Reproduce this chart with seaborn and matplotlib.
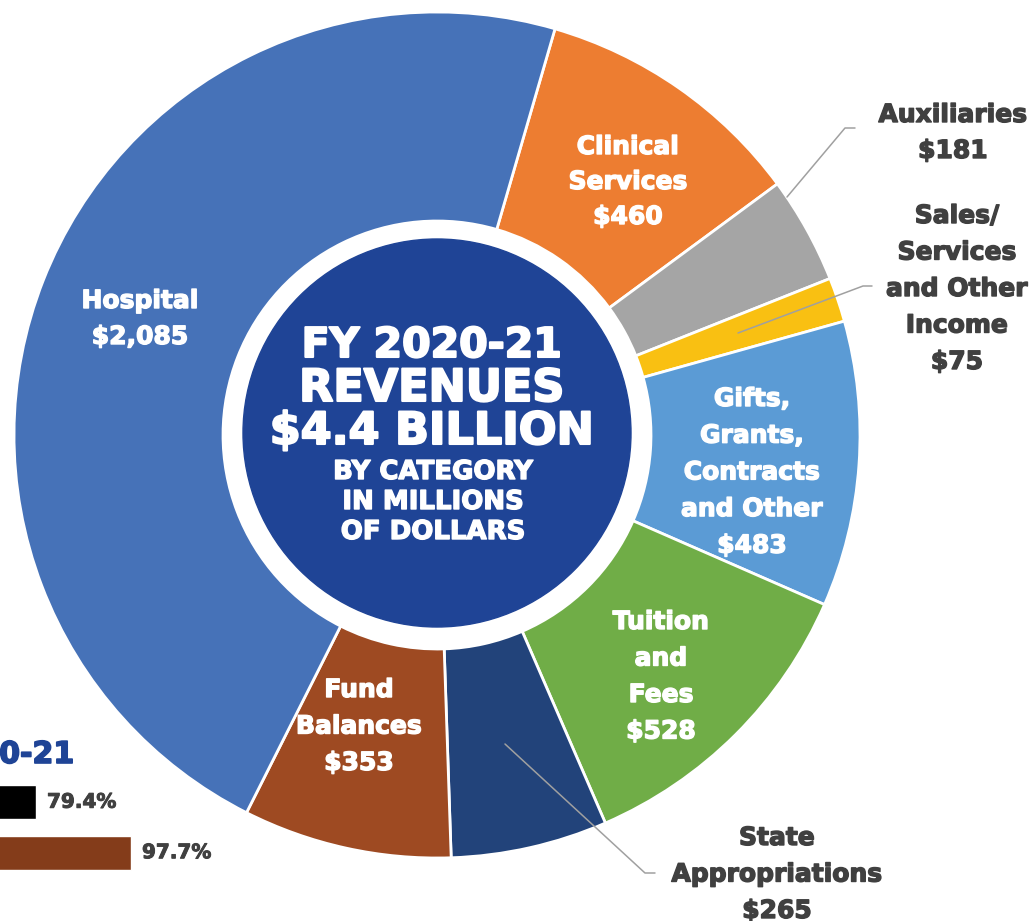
import matplotlib
matplotlib.use("Agg")
import matplotlib.pyplot as plt
import matplotlib.patheffects as pe
import seaborn as sns

# ---- data -------------------------------------------------------------
categories = ["Clinical Services", "Auxiliaries", "Sales/Services and Other Income",
              "Gifts, Grants, Contracts and Other", "Tuition and Fees",
              "State Appropriations", "Fund Balances", "Hospital"]
revenues = [460, 181, 75, 483, 528, 265, 353, 2085]
label_lines = [
    ["Clinical", "Services"],
    ["Auxiliaries"],
    ["Sales/", "Services", "and Other", "Income"],
    ["Gifts,", "Grants,", "Contracts", "and Other"],
    ["Tuition", "and", "Fees"],
    ["State", "Appropriations"],
    ["Fund", "Balances"],
    ["Hospital"],
]
slice_colors = ["#ED7D31", "#A5A5A5", "#F9C012", "#5B9BD5",
                "#70AD47", "#22437A", "#9E4A22", "#4672B8"]

center_title = ["FY 2020-21", "REVENUES", "$4.4 BILLION"]
center_sub = ["BY CATEGORY", "IN MILLIONS", "OF DOLLARS"]

side_title = "FY 2020-21"
bar_groups = ["Series 1", "Series 2"]
bar_rates = [79.4, 97.7]
bar_colors = ["#000000", "#843C1A"]

# ---- figure -----------------------------------------------------------
W, H = 1032, 921
sns.set_theme(style="white")
plt.rcParams["font.family"] = ["DejaVu Sans"]

fig = plt.figure(figsize=(W / 100, H / 100), dpi=100)
ax = fig.add_axes([0, 0, 1, 1])


def Y(y):
    return H - y


def heavy(color, w=1.0):
    return [pe.withStroke(linewidth=w, foreground=color)]


cx, cy, R, r_in, r_disc = 437, 435, 423, 214, 194

ax.pie(revenues, colors=sns.color_palette(slice_colors), startangle=73.8,
       counterclock=False, radius=R, center=(cx, Y(cy)),
       wedgeprops=dict(width=R - r_in, edgecolor="white", linewidth=2.0))
ax.add_patch(plt.Circle((cx, Y(433)), r_disc, color="#1F4496", zorder=3))
ax.set_xlim(0, W)
ax.set_ylim(0, H)
ax.set_aspect("equal")
ax.axis("off")

dark = "#404040"
lab_px = 25
lab_pt = lab_px * 0.72

# label anchor (x center, first baseline, line pitch, colour) per slice
label_pos = {
    "Clinical Services": (628, 154, 35, "white"),
    "Auxiliaries": (953, 122, 36, dark),
    "Sales/Services and Other Income": (957, 223, 36.5, dark),
    "Gifts, Grants, Contracts and Other": (752, 406, 36.7, "white"),
    "Tuition and Fees": (661, 629, 36.5, "white"),
    "State Appropriations": (777, 845, 36.5, dark),
    "Fund Balances": (359, 697, 36.5, "white"),
    "Hospital": (140, 308, 36, "white"),
}
for cat, val, lines in zip(categories, revenues, label_lines):
    x, y0, pitch, col = label_pos[cat]
    for i, line in enumerate(lines + [f"${val:,}"]):
        ax.text(x, Y(y0 + i * pitch), line, ha="center", va="baseline",
                fontsize=lab_pt, fontweight="bold", color=col, zorder=5,
                path_effects=heavy(col))

# leader lines for the thin slices
leaders = [
    [(787, 197), (845, 128), (855, 128)],
    [(738, 333), (863, 286), (872, 286)],
    [(505, 744), (645, 873), (655, 873)],
]
for pts in leaders:
    xs = [p[0] for p in pts]
    ys = [Y(p[1]) for p in pts]
    ax.plot(xs, ys, color="#A0A0A0", lw=1.1, zorder=4)

# centre disc text
title_sizes = [41, 44.5, 44.5]
title_base = [357, 401, 444]
for t, s, b in zip(center_title, title_sizes, title_base):
    ax.text(432, Y(b), t, ha="center", va="baseline", fontsize=s * 0.72,
            fontweight="bold", color="white", zorder=5,
            path_effects=heavy("white", 1.5))
for i, t in enumerate(center_sub):
    ax.text(433, Y(479 + i * 30), t, ha="center", va="baseline",
            fontsize=26 * 0.72, fontweight="bold", color="white", zorder=5,
            path_effects=heavy("white", 1.0))

# side panel: completion rates as horizontal bars
ax.text(74, Y(763), side_title, ha="right", va="baseline", fontsize=30 * 0.72,
        fontweight="bold", color="#1F4496", path_effects=heavy("#1F4496", 1.2))

px_per_unit = 5.19
zero_x = 36 - bar_rates[0] * px_per_unit
top_px, slot_px = 777, 50.5
ax2 = fig.add_axes([zero_x / W, (H - (top_px + 2 * slot_px)) / H,
                    100 * px_per_unit / W, 2 * slot_px / H])
sns.barplot(x=bar_rates, y=bar_groups, hue=bar_groups, palette=bar_colors,
            orient="h", width=0.68, legend=False, ax=ax2, saturation=1)
ax2.set_xlim(0, 100)
ax2.set_ylim(1.5, -0.5)
ax2.axis("off")
for i, v in enumerate(bar_rates):
    ax2.text(v + 11 / px_per_unit, i, f"{v}%", ha="left", va="center",
             fontsize=20 * 0.72, fontweight="bold", color=dark,
             path_effects=heavy(dark, 0.7))

fig.savefig("out.png", dpi=100)
